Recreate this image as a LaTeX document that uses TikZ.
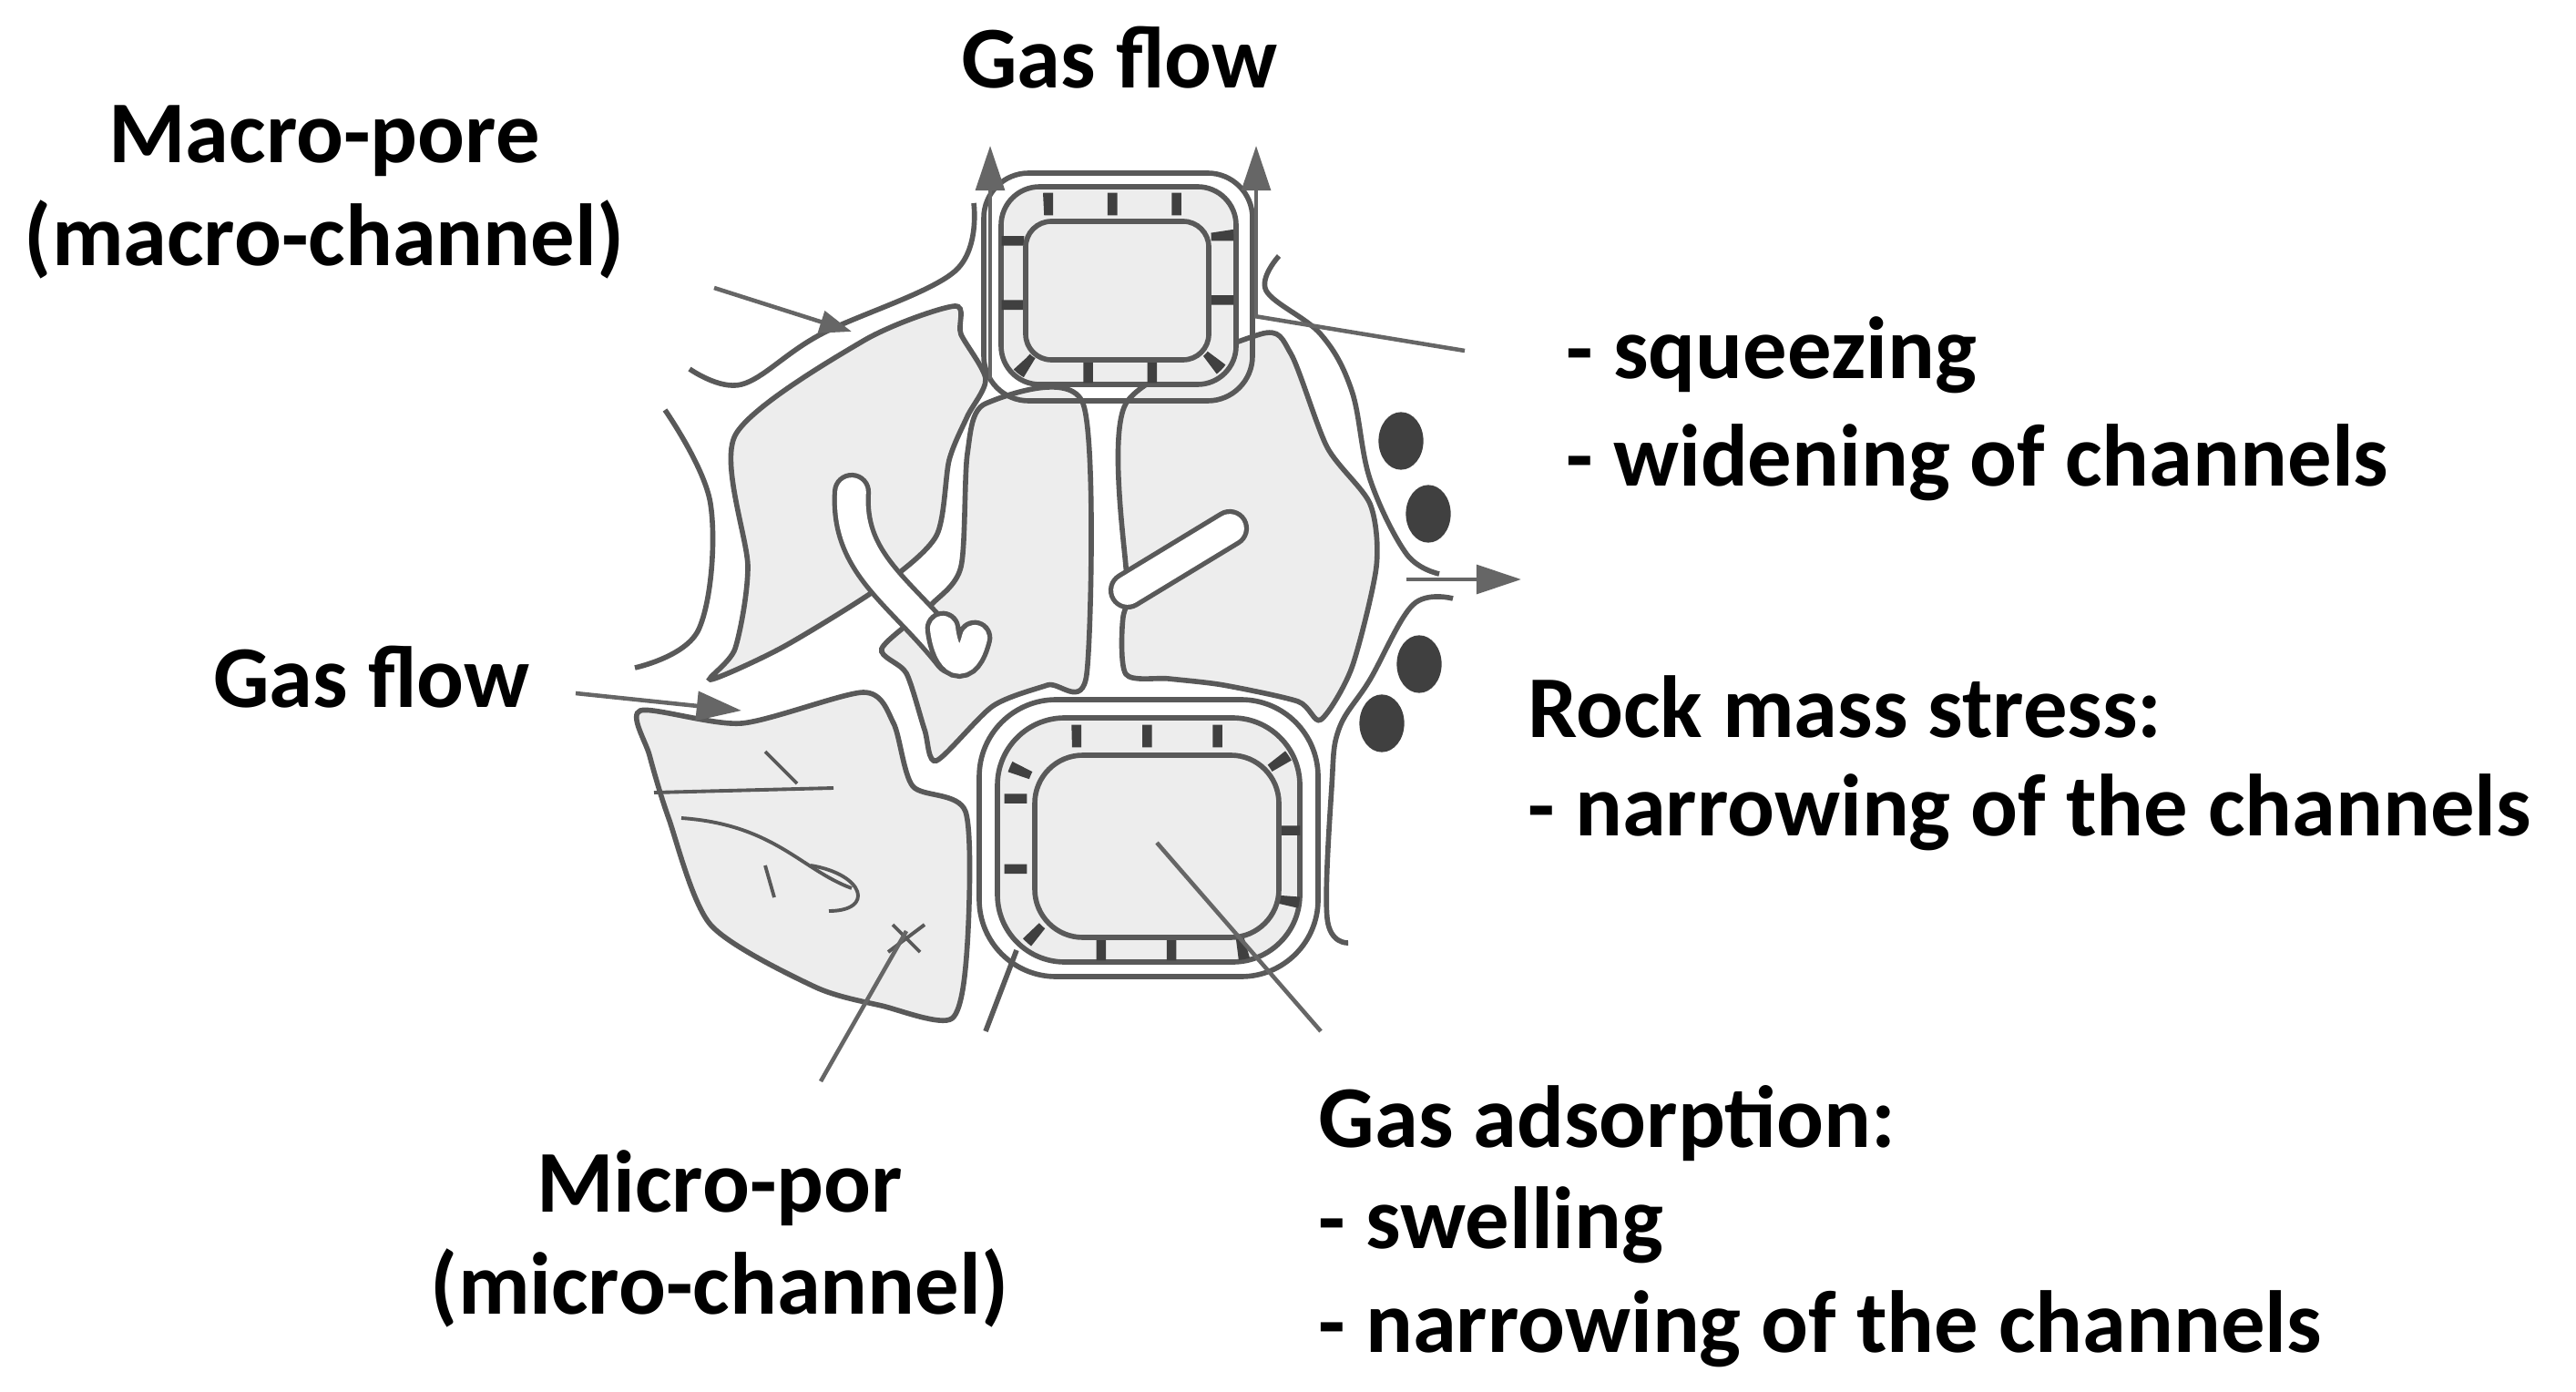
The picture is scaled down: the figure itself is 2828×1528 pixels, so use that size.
\documentclass[tikz,border=0pt]{standalone}
\usepackage{fontspec}
\setmainfont{Carlito}
\usetikzlibrary{arrows.meta}
\begin{document}
\begin{tikzpicture}[x=0.01cm,y=-0.01cm,
  lab/.style={font=\fontsize{27.5}{32}\selectfont\bfseries,inner sep=0pt},
  grain/.style={draw=black!65,line width=1.6pt,fill=black!7},
  wall/.style={draw=black!65,line width=1.6pt},
  lead/.style={draw=black!60,line width=1.3pt},
  flow/.style={draw=black!60,line width=1.3pt,-{Triangle[length=14pt,width=9pt]}},
  chan/.style={draw=white,line width=9pt,line cap=round}]
\useasboundingbox (0,0) rectangle (2828,1528);
% grains
\draw[grain] plot[smooth cycle,tension=0.45] coordinates {(807,478)(948,374)(1048,336)(1055,367)(1082,416)(1062,457)(1042,505)(1028,588)(968,643)(860,710)(780,746)(807,712)(821,622)};
\draw[grain] plot[smooth cycle,tension=0.45] coordinates {(1082,443)(1189,443)(1193,740)(1150,752)(1090,775)(1028,835)(1015,801)(995,739)(968,712)(1022,664)(1055,622)(1062,498)};
\draw[grain] plot[smooth cycle,tension=0.45] coordinates {(1236,443)(1383,367)(1417,388)(1457,491)(1504,553)(1511,622)(1484,733)(1450,790)(1425,770)(1343,752)(1283,745)(1236,740)(1233,677)(1250,636)(1236,622)};
\draw[grain] plot[smooth cycle,tension=0.45] coordinates {(703,780)(814,794)(948,760)(981,794)(1002,863)(1060,891)(1062,1036)(1045,1118)(968,1104)(894,1083)(780,1015)(734,898)(713,829)};
% micro channels (white fingers)
\draw[wall,line width=12pt,line cap=round] (1238,648) -- (1350,580);
\draw[chan] (1238,648) -- (1350,580);
\draw[wall,line width=12pt,line cap=round] (935,540) .. controls (930,620) and (990,650) .. (1045,720);
\draw[chan] (935,540) .. controls (930,620) and (990,650) .. (1045,720);
\draw[wall,line width=11pt,line cap=round] (1035,690) .. controls (1040,730) and (1060,740) .. (1070,700);
\draw[chan,line width=8pt] (1035,690) .. controls (1040,730) and (1060,740) .. (1070,700);
\draw[wall,line width=1.1pt] (718,870) -- (915,865) (748,898) .. controls (850,905) and (880,955) .. (935,975);
\draw[wall,line width=1.1pt] (890,950) .. controls (950,960) and (960,1000) .. (910,1000);
\draw[wall,line width=1.1pt] (980,1015) -- (1010,1045) (975,1045) -- (1015,1015);
\draw[wall,line width=1.1pt] (840,825) -- (875,860) (840,950) -- (850,985);
% rings
\draw[wall,rounded corners=14pt] (1080,190) rectangle (1375,440);
\draw[wall,fill=black!7,rounded corners=12pt] (1099,205) rectangle (1357,422);
\draw[black!75,line width=7pt,dash pattern=on 3pt off 17pt,rounded corners=10pt] (1112,224) rectangle (1342,408);
\draw[wall,fill=black!7,rounded corners=8pt] (1126,243) rectangle (1327,395);
\draw[wall,rounded corners=24pt] (1075,768) rectangle (1447,1072);
\draw[wall,fill=black!7,rounded corners=21pt] (1095,788) rectangle (1427,1056);
\draw[black!75,line width=7pt,dash pattern=on 3pt off 19pt,rounded corners=18pt] (1115,808) rectangle (1415,1042);
\draw[wall,fill=black!7,rounded corners=15pt] (1136,829) rectangle (1404,1029);
% other outline lines
\draw[wall] plot[smooth,tension=0.6] coordinates {(730,450)(780,553)(767,691)(697,733)};
\draw[wall] plot[smooth,tension=0.6] coordinates {(757,405)(814,422)(901,367)(1048,298)(1069,223)};
\draw[wall] plot[smooth,tension=0.6] coordinates {(1404,281)(1390,319)(1450,367)(1484,429)(1504,526)(1544,608)(1580,630)};
\draw[wall] plot[smooth,tension=0.6] coordinates {(1595,657)(1551,664)(1504,746)(1470,800)(1462,863)(1457,1008)(1480,1035)};
\draw[wall] (1082,1132) -- (1116,1043);
% dark blobs
\foreach \p in {(1538,484),(1568,564),(1558,729),(1517,794)} \fill[black!75] \p ellipse (7pt and 9pt);
% labels
\node[lab] (gft) at (1229,63) {Gas flow};
\node[lab,align=center] (macro) at (356,211) {Macro-pore\\(macro-channel)};
\node[lab,anchor=west] (sq) at (1719,390) {- squeezing};
\node[lab,anchor=west] (wid) at (1719,508) {- widening of channels};
\node[lab,anchor=west] (rock) at (1677,776) {Rock mass stress:};
\node[lab,anchor=west] (nar1) at (1677,892) {- narrowing of the channels};
\node[lab] (gfl) at (408,743) {Gas flow};
\node[lab,anchor=west] (ads) at (1447,1233) {Gas adsorption:};
\node[lab,anchor=west] (sw) at (1447,1345) {- swelling};
\node[lab,anchor=west] (nar2) at (1447,1459) {- narrowing of the channels};
\node[lab,align=center] (micro) at (790,1360) {Micro-por\\(micro-channel)};
% connectors
\coordinate (c1) at (935,364); \coordinate (c1s) at (784,316);
\draw[lead,-{Triangle[length=10pt,width=7pt]}] (c1s) -- (c1);
\coordinate (c2s) at (1608,385); \coordinate (c2) at (1377,347);
\draw[lead] (c2s) -- (c2);
\coordinate (c3s) at (1450,1132); \coordinate (c3) at (1270,925);
\draw[lead] (c3s) -- (c3);
\coordinate (c4s) at (901,1187); \coordinate (c4) at (995,1022);
\draw[lead] (c4s) -- (c4);
\coordinate (t1s) at (1087,416); \coordinate (t1) at (1087,160);
\coordinate (t2s) at (1379,347); \coordinate (t2) at (1379,160);
\draw[flow] (t1s) -- (t1); \draw[flow] (t2s) -- (t2);
\coordinate (r1s) at (1544,636); \coordinate (r1) at (1670,636);
\draw[flow] (r1s) -- (r1);
\coordinate (l1s) at (632,761); \coordinate (l1) at (814,780);
\draw[flow] (l1s) -- (l1);
\end{tikzpicture}
\end{document}
